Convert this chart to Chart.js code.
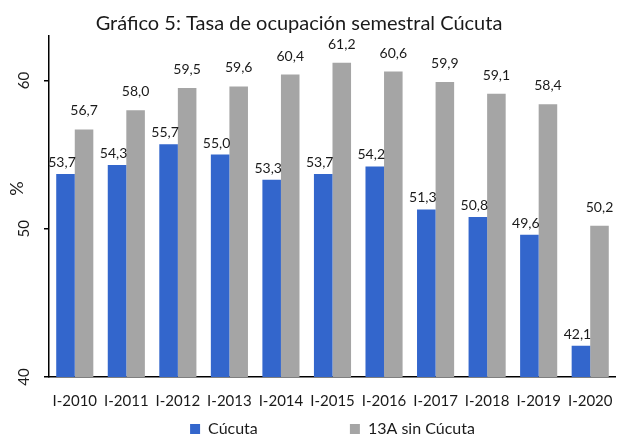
<!DOCTYPE html>
<html>
<head>
<meta charset="utf-8">
<script src="https://cdn.jsdelivr.net/npm/chart.js@4/dist/chart.umd.min.js"></script>
<style>
  html, body { margin: 0; padding: 0; background: #ffffff; }
  #wrap { width: 628px; height: 437px; }
</style>
</head>
<body>
<div id="wrap"><canvas id="c" width="628" height="437"></canvas></div>
<script>
// ---- Data ----
const categories = ['I-2010', 'I-2011', 'I-2012', 'I-2013', 'I-2014', 'I-2015', 'I-2016', 'I-2017', 'I-2018', 'I-2019', 'I-2020'];
const cucutaValues = [53.7, 54.3, 55.7, 55.0, 53.3, 53.7, 54.2, 51.3, 50.8, 49.6, 42.1];
const sinCucutaValues = [56.7, 58.0, 59.5, 59.6, 60.4, 61.2, 60.6, 59.9, 59.1, 58.4, 50.2];
const seriesNames = ['Cúcuta', '13A sin Cúcuta'];
const yTickValues = [40, 50, 60];
const yMin = 40;
const yMax = 63;
const chartTitle = 'Gráfico 5: Tasa de ocupación semestral Cúcuta';
const yAxisTitle = '%';

// ---- Styles ----
const BLUE = '#3366CC';
const GRAY = '#A5A5A5';
Chart.defaults.font.family = 'Lato, "Open Sans", sans-serif';
Chart.defaults.color = '#1a1a1a';

const fmt = v => v.toFixed(1).replace('.', ',');

const valueLabels = {
  id: 'valueLabels',
  afterDatasetsDraw(chart, args, opts) {
    const ctx = chart.ctx;
    ctx.save();
    ctx.font = opts.font;
    ctx.fillStyle = opts.color;
    ctx.textAlign = 'center';
    ctx.textBaseline = 'alphabetic';
    chart.data.datasets.forEach((ds, di) => {
      const meta = chart.getDatasetMeta(di);
      const off = opts.offsets[di];
      meta.data.forEach((bar, i) => {
        ctx.fillText(fmt(ds.data[i]), bar.x + off.dx, bar.y - off.dy);
      });
    });
    ctx.restore();
  }
};

new Chart(document.getElementById('c'), {
  type: 'bar',
  data: {
    labels: categories,
    datasets: [
      { label: seriesNames[0], data: cucutaValues, backgroundColor: BLUE, borderWidth: 0 },
      { label: seriesNames[1], data: sinCucutaValues, backgroundColor: GRAY, borderWidth: 0 }
    ]
  },
  options: {
    responsive: false,
    animation: false,
    devicePixelRatio: 1,
    layout: { padding: 0, autoPadding: false },
    datasets: { bar: { categoryPercentage: 0.72, barPercentage: 1.0 } },
    scales: {
      x: {
        type: 'category',
        offset: true,
        grid: { display: false, drawTicks: false, drawOnChartArea: false },
        border: { display: true, color: '#000000', width: 1.5 },
        ticks: { font: { size: 15 }, padding: 15.5, color: '#1a1a1a', maxRotation: 0, minRotation: 0, autoSkip: false },
        afterFit: s => { s.height = 36; }
      },
      y: {
        min: yMin,
        max: yMax,
        grid: { display: true, drawOnChartArea: false, drawTicks: true, tickLength: 5, color: '#000000', lineWidth: 1.5 },
        border: { display: true, color: '#000000', width: 1.5 },
        ticks: {
          font: { size: 15 }, padding: 11, color: '#1a1a1a',
          minRotation: 90, maxRotation: 90, crossAlign: 'center',
          includeBounds: false
        },
        afterBuildTicks: s => { s.ticks = yTickValues.map(v => ({ value: v })); },
        title: {
          display: true,
          text: '\u2003\u2003\u2002' + yAxisTitle,
          font: { size: 18 },
          color: '#1a1a1a',
          padding: { top: 6, bottom: 0 }
        },
        afterFit: s => { s.width = 49; }
      }
    },
    plugins: {
      title: {
        display: true,
        text: chartTitle + '\u2003\u2003',
        font: { size: 20, weight: 'normal' },
        color: '#1a1a1a',
        padding: { top: 12, bottom: 0 }
      },
      legend: {
        position: 'bottom',
        fullSize: false,
        maxHeight: 24,
        labels: {
          font: { size: 16 },
          color: '#1a1a1a',
          boxWidth: 10,
          boxHeight: 10,
          padding: 8,
          generateLabels(chart) {
            const items = Chart.defaults.plugins.legend.labels.generateLabels(chart);
            items[0].text = items[0].text + ' \u2003\u2003\u2003\u2003\u2003\u2003\u2002';
            items.forEach(it => { it.lineWidth = 0; });
            return items;
          }
        }
      },
      tooltip: { enabled: false },
      valueLabels: {
        font: '14px Lato, "Open Sans", sans-serif',
        color: '#1a1a1a',
        offsets: [ { dx: -3.5, dy: 7 }, { dx: 0, dy: 14 } ]
      }
    }
  },
  plugins: [valueLabels]
});
</script>
</body>
</html>
